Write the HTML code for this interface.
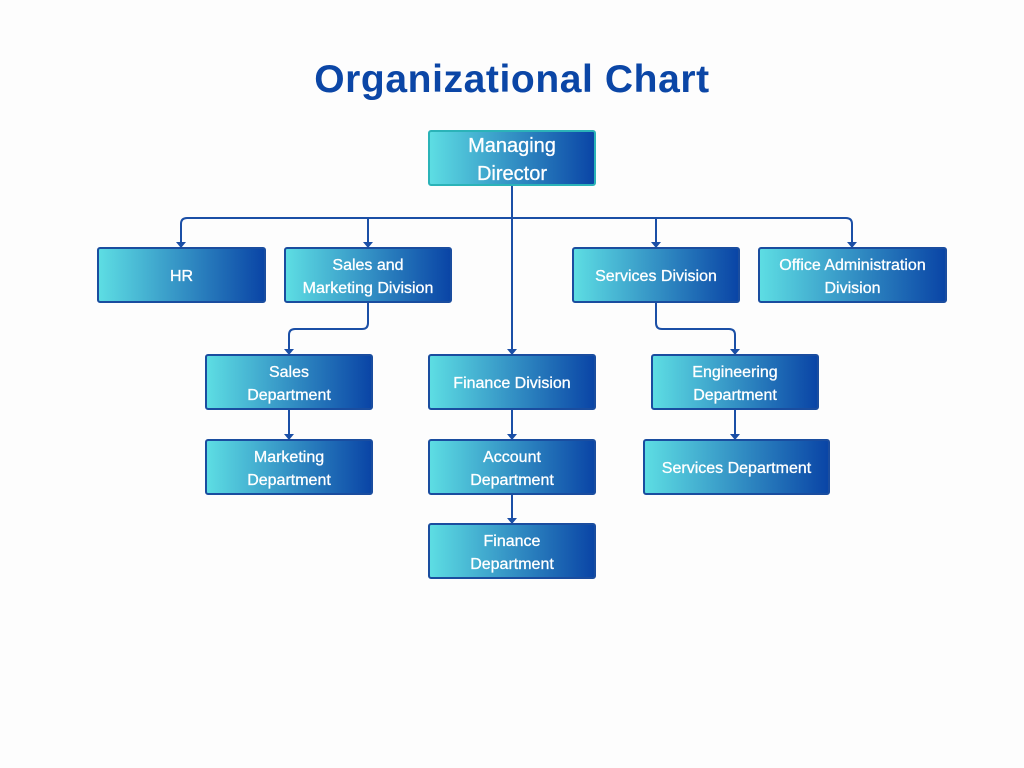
<!DOCTYPE html>
<html><head><meta charset="utf-8"><style>
body{margin:0;width:1024px;height:768px;background:#fdfdfd;position:relative;overflow:hidden;font-family:"Liberation Sans",sans-serif}
.t{position:absolute;left:0;width:1024px;top:58px;text-align:center;font-size:39px;font-weight:bold;color:#0b46a6;letter-spacing:0.6px}
.b{position:absolute;box-sizing:border-box;border:2px solid #1a4d9f;border-radius:3px;background:linear-gradient(90deg,#5ddde3,#0a45a6);color:#fff;display:flex;align-items:center;justify-content:center;text-align:center;font-size:16px;line-height:23px;height:56px;padding-top:3px;-webkit-text-stroke:0.3px #fff}
</style></head><body>
<div class="t">Organizational Chart</div>
<svg width="1024" height="768" style="position:absolute;left:0;top:0">
<g stroke="#1b4fa6" stroke-width="2" fill="none">
<path d="M181,243 V224 Q181,218 187,218 H846 Q852,218 852,224 V243"/>
<path d="M368,218 V243 M656,218 V243 M512,186 V350"/>
<path d="M368,303 V323 Q368,329 362,329 H295 Q289,329 289,335 V350"/>
<path d="M656,303 V323 Q656,329 662,329 H729 Q735,329 735,335 V350"/>
<path d="M289,410 V435 M512,410 V435 M512,495 V519 M735,410 V435"/>
</g>
<g fill="#1b4fa6">
<path d="M176,242 h10 l-5,6z M363,242 h10 l-5,6z M651,242 h10 l-5,6z M847,242 h10 l-5,6z"/>
<path d="M284,349 h10 l-5,6z M507,349 h10 l-5,6z M730,349 h10 l-5,6z"/>
<path d="M284,434 h10 l-5,6z M507,434 h10 l-5,6z M730,434 h10 l-5,6z M507,518 h10 l-5,6z"/>
</g>
</svg>
<div class="b" style="left:428px;top:130px;width:168px;border-color:#2bb3b8;font-size:20px;line-height:28px">Managing<br>Director</div>
<div class="b" style="left:97px;top:247px;width:169px">HR</div>
<div class="b" style="left:284px;top:247px;width:168px">Sales and<br>Marketing Division</div>
<div class="b" style="left:572px;top:247px;width:168px">Services Division</div>
<div class="b" style="left:758px;top:247px;width:189px">Office Administration<br>Division</div>
<div class="b" style="left:205px;top:354px;width:168px">Sales<br>Department</div>
<div class="b" style="left:428px;top:354px;width:168px">Finance Division</div>
<div class="b" style="left:651px;top:354px;width:168px">Engineering<br>Department</div>
<div class="b" style="left:205px;top:439px;width:168px">Marketing<br>Department</div>
<div class="b" style="left:428px;top:439px;width:168px">Account<br>Department</div>
<div class="b" style="left:643px;top:439px;width:187px">Services Department</div>
<div class="b" style="left:428px;top:523px;width:168px">Finance<br>Department</div>
</body></html>
